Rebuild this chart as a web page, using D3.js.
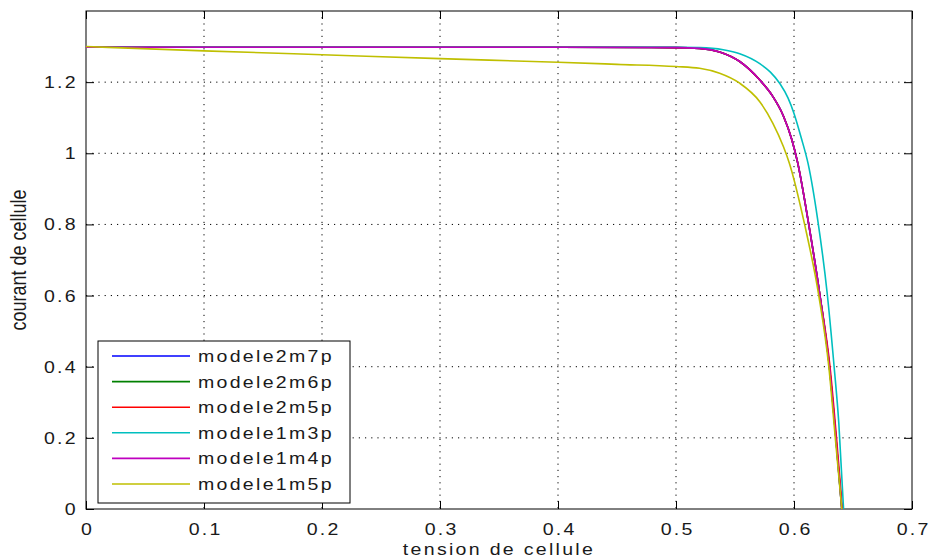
<!DOCTYPE html>
<html lang="fr">
<head>
<meta charset="utf-8" />
<title>courant de cellule</title>
<style type="text/css">
  body { margin: 0; background: #fff; }
  text { font-family: "Liberation Sans", Arial, sans-serif; fill: #1a1a1a; }
</style>
</head>
<body>
<div id="graph"></div>
<script src="https://d3js.org/d3.v7.min.js"></script>
<script type="text/javascript">
  var CHART_WIDTH = 931, CHART_HEIGHT = 558;
  var margin = { top: 11, right: 19, bottom: 49, left: 86 },
      width = CHART_WIDTH - margin.left - margin.right,
      height = CHART_HEIGHT - margin.top - margin.bottom;
  var STRETCH = 1.15; // the picture's text is drawn wide

  // tick values
  var xTicks = [0, 0.1, 0.2, 0.3, 0.4, 0.5, 0.6, 0.7];
  var yTicks = [0, 0.2, 0.4, 0.6, 0.8, 1, 1.2];

  // series names and colours (matlab b, g, r, c, m, y)
  var names = ["modele2m7p", "modele2m6p", "modele2m5p", "modele1m3p", "modele1m4p", "modele1m5p"];
  var colors = ["#0000ff", "#008000", "#ff0000", "#00bfbf", "#bf00bf", "#bfbf00"];

  // tension (V) / courant (A)
  var v2m7p = [0, 0.1, 0.2, 0.3, 0.4, 0.5, 0.52, 0.537, 0.554, 0.571, 0.582, 0.591, 0.598, 0.603, 0.612, 0.622, 0.630, 0.6355, 0.6405];
  var i2m7p = [1.298, 1.298, 1.298, 1.298, 1.298, 1.297, 1.295, 1.285, 1.258, 1.206, 1.160, 1.105, 1.040, 0.975, 0.81, 0.6, 0.4, 0.2, 0];
  var v2m6p = [0, 0.1, 0.2, 0.3, 0.4, 0.5, 0.52, 0.537, 0.554, 0.571, 0.582, 0.591, 0.598, 0.603, 0.612, 0.622, 0.630, 0.6355, 0.6405];
  var i2m6p = [1.298, 1.298, 1.298, 1.298, 1.298, 1.297, 1.295, 1.285, 1.258, 1.206, 1.160, 1.105, 1.040, 0.975, 0.81, 0.6, 0.4, 0.2, 0];
  var v2m5p = [0, 0.1, 0.2, 0.3, 0.4, 0.5, 0.52, 0.537, 0.554, 0.571, 0.582, 0.591, 0.598, 0.603, 0.612, 0.622, 0.6305, 0.636, 0.641];
  var i2m5p = [1.298, 1.298, 1.298, 1.298, 1.298, 1.297, 1.295, 1.285, 1.258, 1.206, 1.160, 1.105, 1.040, 0.975, 0.81, 0.6, 0.4, 0.2, 0];
  var v1m3p = [0, 0.1, 0.2, 0.3, 0.4, 0.5, 0.52, 0.54, 0.554, 0.571, 0.58, 0.588, 0.595, 0.600, 0.606, 0.612, 0.620, 0.628, 0.634, 0.638, 0.642];
  var i1m3p = [1.298, 1.298, 1.298, 1.298, 1.298, 1.298, 1.297, 1.291, 1.280, 1.252, 1.228, 1.196, 1.155, 1.112, 1.045, 0.970, 0.815, 0.61, 0.40, 0.24, 0];
  var v1m4p = [0, 0.1, 0.2, 0.3, 0.4, 0.5, 0.52, 0.537, 0.554, 0.571, 0.582, 0.591, 0.598, 0.603, 0.612, 0.622, 0.630, 0.6355, 0.6405];
  var i1m4p = [1.298, 1.298, 1.298, 1.298, 1.298, 1.297, 1.295, 1.285, 1.258, 1.206, 1.160, 1.105, 1.040, 0.975, 0.81, 0.6, 0.4, 0.2, 0];
  var v1m5p = [0, 0.1, 0.2, 0.3, 0.4, 0.45, 0.5, 0.52, 0.537, 0.554, 0.571, 0.582, 0.591, 0.596, 0.609, 0.621, 0.6295, 0.635, 0.6405];
  var i1m5p = [1.300, 1.288, 1.277, 1.266, 1.256, 1.250, 1.244, 1.239, 1.225, 1.197, 1.145, 1.085, 1.019, 0.973, 0.8, 0.6, 0.4, 0.2, 0];

  var volts = [v2m7p, v2m6p, v2m5p, v1m3p, v1m4p, v1m5p];
  var amps = [i2m7p, i2m6p, i2m5p, i1m3p, i1m4p, i1m5p];

  var series = names.map(function (n, k) {
    return { name: n, color: colors[k], pts: volts[k].map(function (v, j) { return [v, amps[k][j]]; }) };
  });

  // widen a text around its anchor x
  function widen(sel, ax) {
    sel.attr("letter-spacing", "2px")
      .attr("transform", "translate(" + ax + ",0) scale(" + STRETCH + ",1) translate(" + (-ax) + ",0)");
  }

  var svg = d3.select("#graph").append("svg")
      .attr("width", CHART_WIDTH)
      .attr("height", CHART_HEIGHT);
  var g = svg.append("g")
      .attr("transform", "translate(" + margin.left + "," + margin.top + ")");

  var xScale = d3.scaleLinear().domain([0, 0.7]).range([0, width]);
  var yScale = d3.scaleLinear().domain([0, 1.4]).range([height, 0]);

  // dotted grid
  g.append("g").selectAll("line")
    .data(xTicks.filter(function (t) { return t > 0 && t < 0.7; }))
    .enter().append("line")
    .attr("x1", d => xScale(d)).attr("x2", d => xScale(d))
    .attr("y1", 0).attr("y2", height)
    .attr("stroke", "#000").attr("stroke-dasharray", "1.2,5");
  g.append("g").selectAll("line")
    .data(yTicks.filter(function (t) { return t > 0; }))
    .enter().append("line")
    .attr("y1", d => yScale(d)).attr("y2", d => yScale(d))
    .attr("x1", 0).attr("x2", width)
    .attr("stroke", "#000").attr("stroke-dasharray", "1.2,5");

  // axes with inner ticks on four sides
  var fmt = d3.format("");
  var xb = g.append("g").attr("transform", "translate(0," + height + ")")
    .call(d3.axisBottom(xScale).tickValues(xTicks).tickSizeInner(-8).tickSizeOuter(0).tickPadding(14).tickFormat(fmt));
  g.append("g")
    .call(d3.axisTop(xScale).tickValues(xTicks).tickSizeInner(-8).tickSizeOuter(0).tickFormat(""));
  var yl = g.append("g")
    .call(d3.axisLeft(yScale).tickValues(yTicks).tickSizeInner(-8).tickSizeOuter(0).tickPadding(8).tickFormat(fmt));
  g.append("g").attr("transform", "translate(" + width + ",0)")
    .call(d3.axisRight(yScale).tickValues(yTicks).tickSizeInner(-8).tickSizeOuter(0).tickFormat(""));

  g.selectAll(".tick line").attr("stroke", "#000");
  g.selectAll(".domain").remove();
  xb.selectAll("text").attr("font-size", 17).attr("fill", "#1a1a1a").attr("dx", "1px").call(widen, 0);
  yl.selectAll("text").attr("font-size", 17).attr("fill", "#1a1a1a").call(widen, -8);

  g.append("rect")
    .attr("width", width).attr("height", height)
    .attr("fill", "none").attr("stroke", "#000").attr("stroke-width", 1);

  // curves
  var line = d3.line()
    .curve(d3.curveMonotoneX)
    .x(d => xScale(d[0]))
    .y(d => yScale(d[1]));

  g.append("g").selectAll("path")
    .data(series)
    .enter().append("path")
    .attr("d", d => line(d.pts))
    .attr("fill", "none")
    .attr("stroke", d => d.color)
    .attr("stroke-width", 1.6);

  // legend
  var leg = g.append("g").attr("transform", "translate(12,330)");
  leg.append("rect")
    .attr("width", 252).attr("height", 162)
    .attr("fill", "#fff").attr("stroke", "#000");
  var rows = leg.selectAll(".row").data(series).enter().append("g")
    .attr("class", "row")
    .attr("transform", (d, k) => "translate(0," + (15 + k * 25.6) + ")");
  rows.append("line")
    .attr("x1", 14).attr("x2", 92)
    .attr("stroke", d => d.color).attr("stroke-width", 1.6);
  rows.append("text")
    .attr("x", 100).attr("y", 6)
    .attr("font-size", 17)
    .text(d => d.name)
    .call(widen, 100);

  // axis labels
  svg.append("text")
    .attr("x", margin.left + width / 2).attr("y", 555)
    .attr("text-anchor", "middle")
    .attr("font-size", 17)
    .text("tension de cellule")
    .call(widen, margin.left + width / 2);
  svg.append("text")
    .attr("transform", "translate(26," + (margin.top + height / 2) + ") scale(1.2,1) rotate(-90)")
    .attr("text-anchor", "middle")
    .attr("font-size", 18)
    .text("courant de cellule");
</script>
</body>
</html>
